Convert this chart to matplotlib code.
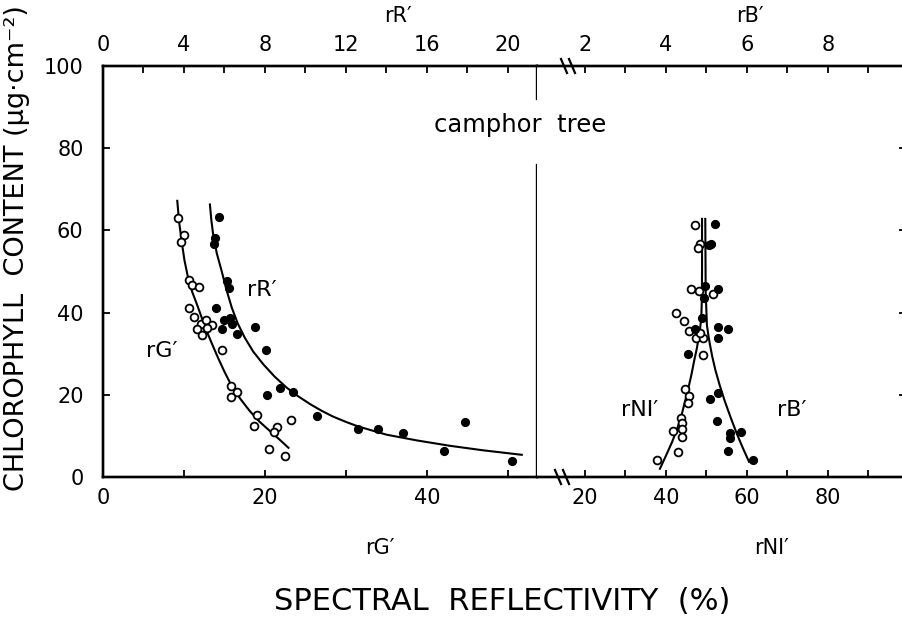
import matplotlib
matplotlib.use("Agg")
import matplotlib.pyplot as plt
from matplotlib.ticker import MultipleLocator

# rG' (open) vs chlorophyll, left panel, bottom axis (%)
rg_x = [9.3, 10.0, 9.6, 10.6, 10.95, 11.85, 10.65, 11.2, 12.05, 12.7, 13.4, 11.65, 12.2,
        12.8, 14.65, 15.8, 16.6, 15.8, 19.0, 18.6, 21.5, 21.1, 23.2, 20.5, 22.5]
rg_y = [62.9, 58.8, 57.2, 47.9, 46.6, 46.2, 41.2, 38.9, 37.3, 38.1, 36.9, 36.1, 34.5,
        36.3, 30.8, 22.1, 20.7, 19.5, 15.1, 12.3, 12.2, 11.0, 13.8, 6.7, 5.1]
rg_fit_x = [9.17, 9.4, 9.71, 10.05, 10.5, 11.0, 11.6, 12.2, 12.8, 13.5, 14.2, 15.0, 15.9,
            17.0, 18.1, 19.3, 20.6, 21.8, 22.9]
rg_fit_y = [67.2, 62.0, 57.4, 52.8, 48.5, 45.1, 42.0, 38.7, 35.5, 32.2, 29.0, 25.6, 22.1,
            18.9, 16.1, 13.5, 11.2, 9.1, 7.1]

# rR' (filled) vs chlorophyll, left panel, top axis (%)
rr_x = [5.72, 5.52, 5.48, 6.12, 6.2, 5.6, 5.96, 6.28, 6.36, 5.86, 6.6, 7.52, 8.04,
        8.08, 8.72, 9.36, 10.56, 12.6, 13.6, 14.8, 16.84, 17.88, 20.2]
rr_y = [63.3, 58.2, 56.8, 47.7, 46.1, 41.0, 38.1, 38.8, 37.3, 35.9, 34.7, 36.5, 30.8,
        20.0, 21.7, 20.7, 14.8, 11.6, 11.6, 10.6, 6.3, 13.4, 3.9]
rr_fit_x = [5.28, 5.35, 5.44, 5.62, 5.86, 6.1, 6.36, 6.65, 7.0, 7.42, 7.92, 8.48, 9.08,
            9.65, 10.24, 10.8, 11.36, 12.0, 12.6, 14.0, 15.5, 17.12, 18.76, 20.68]
rr_fit_y = [66.3, 62.5, 59.0, 54.4, 50.1, 45.5, 41.2, 37.4, 33.9, 30.5, 27.4, 24.4, 21.7,
            19.6, 17.7, 16.1, 14.7, 13.4, 12.3, 10.3, 8.9, 7.6, 6.5, 5.4]

# rNI' (open) vs chlorophyll, right panel, bottom axis (%)
rn_x = [47.2, 48.4, 48.0, 46.2, 48.2, 51.5, 42.5, 44.4, 45.8, 47.4, 49.2, 48.3, 49.1,
        44.7, 45.8, 45.5, 43.6, 43.9, 41.8, 43.9, 43.9, 43.0, 37.9]
rn_y = [61.3, 56.8, 55.6, 45.7, 45.3, 44.6, 40.0, 38.0, 35.5, 33.7, 33.7, 35.0, 29.7,
        21.3, 19.7, 18.1, 14.4, 13.2, 11.2, 11.6, 9.7, 6.2, 4.1]
rn_fit_x = [38.5, 40.0, 41.5, 42.7, 43.7, 44.6, 45.5, 46.3, 47.0, 47.6, 48.0, 48.4, 48.7,
            48.85, 48.9, 48.9]
rn_fit_y = [2.0, 5.2, 8.5, 11.6, 14.5, 18.0, 21.5, 25.0, 28.5, 31.2, 33.5, 36.0, 38.5,
            43.0, 50.0, 62.8]

# rB' (filled) vs chlorophyll, right panel, top axis (%)
rb_x = [5.21, 5.10, 5.05, 4.96, 5.29, 4.95, 4.88, 5.29, 5.52, 5.29, 4.72, 4.54, 5.28,
        5.09, 5.27, 5.58, 5.84, 5.58, 5.54, 6.16]
rb_y = [61.5, 56.8, 56.5, 46.5, 45.7, 43.6, 38.8, 36.5, 35.9, 33.7, 35.9, 29.9, 20.5,
        18.9, 13.6, 10.8, 11.0, 9.4, 6.3, 4.1]
rb_fit_x = [6.05, 5.9, 5.75, 5.6, 5.45, 5.33, 5.22, 5.14, 5.08, 5.04, 5.01, 4.98, 4.97]
rb_fit_y = [3.7, 7.0, 10.5, 14.4, 18.5, 22.2, 26.0, 29.4, 32.5, 34.9, 37.0, 45.0, 62.8]

W, H = 903, 619
fig = plt.figure(figsize=(W / 100, H / 100), dpi=100)


def box(x0, x1, y0, y1):
    return [x0 / W, 1 - y1 / H, (x1 - x0) / W, (y1 - y0) / H]


TICK = dict(direction="in", length=5, width=1.3, labelsize=15)

ax_l = fig.add_axes(box(103, 537, 66, 477))
ax_r = fig.add_axes(box(537, 906, 66, 477))
ax_lt = ax_l.twiny()
ax_rt = ax_r.twiny()

ax_l.set_xlim(0, 434 / 8.1)
ax_lt.set_xlim(0, 434 / 8.1 / 2.5)
ax_r.set_xlim(8.15, 8.15 + 369 / 4.05)
ax_rt.set_xlim(0.815, (8.15 + 369 / 4.05) / 10)
for a in (ax_l, ax_r):
    a.set_ylim(0, 100)

for a in (ax_l, ax_r, ax_lt, ax_rt):
    for s in a.spines.values():
        s.set_linewidth(1.7)
ax_l.spines["right"].set_visible(False)
ax_lt.spines["right"].set_visible(False)
ax_r.spines["left"].set_visible(False)
ax_rt.spines["left"].set_visible(False)

# left y axis, bare ticks on the right edge
ax_l.yaxis.set_major_locator(MultipleLocator(20))
ax_l.tick_params(axis="y", which="both", left=True, right=False, pad=14, **TICK)
ax_r.yaxis.set_major_locator(MultipleLocator(20))
ax_r.tick_params(axis="y", left=False, right=True, labelleft=False, **TICK)

# bottom axes
ax_l.xaxis.set_major_locator(MultipleLocator(20))
ax_l.xaxis.set_minor_locator(MultipleLocator(10))
ax_l.tick_params(axis="x", which="both", pad=8, **TICK)
ax_r.set_xticks([20, 40, 60, 80])
ax_r.set_xticks([30, 50, 70, 90], minor=True)
ax_r.tick_params(axis="x", which="both", pad=8, **TICK)

# top axes
ax_lt.xaxis.set_major_locator(MultipleLocator(4))
ax_lt.xaxis.set_minor_locator(MultipleLocator(2))
ax_lt.tick_params(axis="x", which="both", pad=8, **TICK)
ax_rt.set_xticks([2, 4, 6, 8])
ax_rt.set_xticks([3, 5, 7, 9], minor=True)
ax_rt.tick_params(axis="x", which="both", pad=8, **TICK)
for a in (ax_lt, ax_rt):
    a.tick_params(axis="y", left=False, right=False, labelleft=False, labelright=False)

open_style = dict(marker="o", ms=5.6, mfc="white", mec="black", mew=1.3, ls="none")
fill_style = dict(marker="o", ms=5.6, mfc="black", mec="black", ls="none")
fit_style = dict(color="black", lw=1.5)

ax_l.plot(rg_fit_x, rg_fit_y, **fit_style)
ax_l.plot(rg_x, rg_y, **open_style)
ax_lt.plot(rr_fit_x, rr_fit_y, **fit_style)
ax_lt.plot(rr_x, rr_y, **fill_style)

ax_r.plot(rn_fit_x, rn_fit_y, **fit_style)
ax_rt.plot(rb_fit_x, rb_fit_y, **fit_style)
ax_rt.plot(rb_x, rb_y, **fill_style)
ax_r.plot(rn_x, rn_y, **open_style)

# divider between the panels, interrupted by the title
for y0, y1 in [(0, 0.759), (0.92, 1)]:
    ax_l.axvline(ax_l.get_xlim()[1], ymin=y0, ymax=y1, color="black", lw=1.7,
                 clip_on=False)

# axis break marks
for xc, yc in [(558, 477), (566, 477), (564, 66), (572, 66)]:
    fx, fy = xc / W, 1 - yc / H
    fig.add_artist(plt.Line2D([fx - 3 / W, fx + 3 / W], [fy + 7 / H, fy - 7 / H],
                              color="black", lw=1.6))

txt = dict(ha="center", va="center", color="black")
fig.text(520 / W, 1 - 125 / H, "camphor  tree", fontsize=17.5, **txt)
fig.text(262 / W, 1 - 290 / H, "rR′", fontsize=16, **txt)
fig.text(162 / W, 1 - 351 / H, "rG′", fontsize=16, **txt)
fig.text(640 / W, 1 - 410 / H, "rNI′", fontsize=16, **txt)
fig.text(792 / W, 1 - 410 / H, "rB′", fontsize=16, **txt)
fig.text(380 / W, 1 - 548 / H, "rG′", fontsize=15, **txt)
fig.text(772 / W, 1 - 548 / H, "rNI′", fontsize=15, **txt)
fig.text(398 / W, 1 - 16 / H, "rR′", fontsize=15, **txt)
fig.text(750 / W, 1 - 16 / H, "rB′", fontsize=15, **txt)
fig.text(502 / W, 1 - 601 / H, "SPECTRAL  REFLECTIVITY  (%)", fontsize=22, **txt)
fig.text(17 / W, 1 - 248 / H, "CHLOROPHYLL  CONTENT (μg·cm⁻²)", fontsize=19.5,
         rotation=90, **txt)

fig.savefig("out.png", dpi=100)
